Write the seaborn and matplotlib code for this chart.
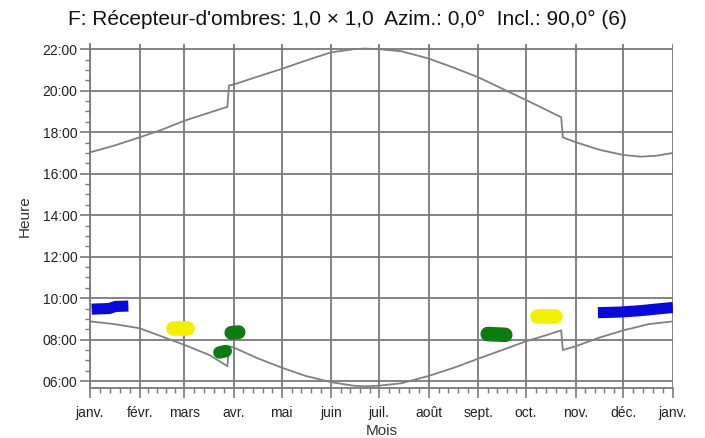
import numpy as np
import pandas as pd
import matplotlib.pyplot as plt
import seaborn as sns
from matplotlib.ticker import FixedLocator

sns.set_style("white")
plt.rcParams['font.family'] = ['Liberation Sans', 'DejaVu Sans']

# axe des x : jour de l'année (0 = 1er janvier)
mois_jours = [0, 31, 59, 90, 120, 151, 181, 212, 243, 273, 304, 334, 365]
mois_labels = ['janv.', 'févr.', 'mars', 'avr.', 'mai', 'juin', 'juil.',
               'août', 'sept.', 'oct.', 'nov.', 'déc.', 'janv.']
heures_ticks = [6, 8, 10, 12, 14, 16, 18, 20, 22]
heures_labels = ['06:00', '08:00', '10:00', '12:00', '14:00', '16:00',
                 '18:00', '20:00', '22:00']

# coucher du soleil (heures décimales)
coucher_jour = [0, 15, 31, 45, 59, 75, 86, 87, 90, 105, 120, 135, 151, 165, 172,
                181, 195, 212, 228, 243, 258, 273, 285, 295, 296, 304, 319,
                334, 345, 355, 365]
coucher_h = [17.03, 17.35, 17.75, 18.12, 18.55, 18.95, 19.22, 20.25, 20.3, 20.68,
             21.05, 21.45, 21.85, 22.0, 22.03, 22.0, 21.9, 21.55, 21.1, 20.65,
             20.1, 19.55, 19.1, 18.72, 17.75, 17.52, 17.15, 16.9, 16.82, 16.87, 17.0]

# lever du soleil
lever_jour = [0, 15, 31, 45, 59, 75, 86, 87, 90, 105, 120, 135, 151, 165, 172,
              181, 195, 212, 228, 243, 258, 273, 285, 295, 296, 304, 319, 334,
              350, 365]
lever_h = [8.88, 8.75, 8.55, 8.15, 7.75, 7.25, 6.72, 7.68, 7.62, 7.1, 6.65, 6.25,
           5.95, 5.78, 5.75, 5.78, 5.9, 6.25, 6.65, 7.08, 7.5, 7.92, 8.2, 8.45,
           7.5, 7.68, 8.1, 8.45, 8.75, 8.88]

# ombres portées
ombres = [
    ('#0a0ad8', 'butt', 8, [1, 12, 16, 24], [9.47, 9.5, 9.6, 9.62]),
    ('#f2f000', 'round', 10.5, [52, 61], [8.55, 8.55]),
    ('#0e7a12', 'round', 10, [88.5, 93], [8.33, 8.36]),
    ('#0e7a12', 'round', 9, [81, 85], [7.38, 7.45]),
    ('#0e7a12', 'round', 10.5, [249, 260], [8.27, 8.23]),
    ('#f2f000', 'round', 10.5, [280, 291], [9.13, 9.13]),
    ('#0a0ad8', 'butt', 8, [318, 332, 345, 354, 365], [9.3, 9.33, 9.4, 9.47, 9.55]),
]

fig = plt.figure(figsize=(7.05, 4.38), dpi=100)
ax = fig.add_axes([0.1277, 0.1142, 0.8269, 0.7853])

grid_col = '#7a7a7a'
for h in heures_ticks:
    ax.axhline(h, color=grid_col, lw=1.3, zorder=0)
for d in mois_jours:
    ax.axvline(d, color=grid_col, lw=1.3, zorder=0)

df_c = pd.DataFrame({'jour': coucher_jour, 'heure': coucher_h})
df_l = pd.DataFrame({'jour': lever_jour, 'heure': lever_h})
sns.lineplot(data=df_c, x='jour', y='heure', color='#808080', lw=1.3, ax=ax,
             sort=False, estimator=None)
sns.lineplot(data=df_l, x='jour', y='heure', color='#808080', lw=1.3, ax=ax,
             sort=False, estimator=None)

for col, cap, lw, jours, hs in ombres:
    d = pd.DataFrame({'jour': jours, 'heure': hs})
    sns.lineplot(data=d, x='jour', y='heure', color=col, lw=lw, ax=ax,
                 sort=False, estimator=None, solid_capstyle=cap,
                 solid_joinstyle='round', zorder=4)

ax.set_xlim(0, 365)
ax.set_ylim(5.67, 22.25)

ax.xaxis.set_major_locator(FixedLocator(mois_jours))
ax.set_xticklabels(mois_labels)
minor_x = []
for a, b in zip(mois_jours[:-1], mois_jours[1:]):
    minor_x += [a + (b - a) * k / 5 for k in range(1, 5)]
ax.xaxis.set_minor_locator(FixedLocator(minor_x))

ax.yaxis.set_major_locator(FixedLocator(heures_ticks))
ax.set_yticklabels(heures_labels)
ax.yaxis.set_minor_locator(FixedLocator(np.arange(5.5, 22.3, 0.5)))

ax.tick_params(axis='y', which='major', direction='out', length=7, width=1.2,
               color=grid_col, labelsize=10, labelcolor='#222222', pad=2, left=True)
ax.tick_params(axis='x', which='major', direction='out', length=7, width=1.2,
               color=grid_col, labelsize=10, labelcolor='#222222', pad=6, bottom=True)
ax.tick_params(axis='both', which='minor', direction='out', length=3.5, width=1.0,
               color=grid_col, bottom=True, left=True)

for s in ['top', 'right']:
    ax.spines[s].set_visible(False)
for s in ['left', 'bottom']:
    ax.spines[s].set_color(grid_col)
    ax.spines[s].set_linewidth(1.3)

ax.set_xlabel('Mois', fontsize=11, color='#333333', labelpad=3)
ax.set_ylabel('Heure', fontsize=11, color='#333333', labelpad=8)

fig.text(0.493, 0.955, "F: Récepteur-d'ombres: 1,0 × 1,0  Azim.: 0,0°  Incl.: 90,0° (6)",
         ha='center', va='center', fontsize=15, color='#111111')

fig.savefig('out.png', dpi=100)
